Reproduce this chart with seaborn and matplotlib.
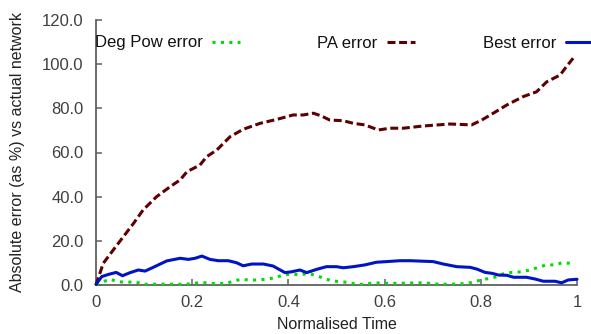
import matplotlib
matplotlib.use("Agg")
import matplotlib.pyplot as plt
import seaborn as sns
import pandas as pd

# ---- data ----
pa_t = [0.0, 0.015, 0.036, 0.057, 0.078, 0.098, 0.126, 0.154, 0.175, 0.189, 0.216, 0.23,
        0.251, 0.279, 0.306, 0.341, 0.376, 0.41, 0.431, 0.452, 0.469, 0.486, 0.514, 0.535,
        0.559, 0.587, 0.611, 0.639, 0.68, 0.736, 0.781, 0.802, 0.826, 0.854, 0.888, 0.916,
        0.937, 0.965, 0.978, 0.992]
pa_err = [0, 9.8, 15.9, 21.9, 27.9, 34, 40, 44.5, 47.6, 51.3, 54.3, 58.1,
          61.1, 67.2, 70.5, 73.2, 75, 77, 77, 77.8, 76.5, 74.7, 74.4, 73.2,
          72.5, 70.2, 71, 71, 72, 72.9, 72.5, 74.7, 77.8, 81.5, 85.3, 87.5,
          92, 95.1, 98.9, 102.7]

best_t = [0.0, 0.012, 0.026, 0.042, 0.055, 0.071, 0.088, 0.102, 0.119, 0.147, 0.175, 0.192,
          0.206, 0.22, 0.237, 0.254, 0.275, 0.292, 0.306, 0.324, 0.348, 0.368, 0.393, 0.407,
          0.424, 0.438, 0.459, 0.479, 0.5, 0.514, 0.535, 0.559, 0.583, 0.611, 0.632, 0.653,
          0.701, 0.722, 0.75, 0.778, 0.792, 0.809, 0.823, 0.837, 0.854, 0.868, 0.895, 0.913,
          0.93, 0.954, 0.968, 0.982, 1.0]
best_err = [0.3, 3.8, 4.8, 5.7, 4.2, 5.6, 6.8, 6.3, 8, 10.9, 12.1, 11.6,
            12.1, 13.1, 11.6, 11, 11, 10.1, 8.7, 9.5, 9.5, 8.6, 5.6, 6,
            6.8, 5.6, 7.1, 8.3, 8.3, 7.8, 8.3, 9.1, 10.3, 10.7, 11, 11,
            10.6, 9.5, 8.3, 8, 7.2, 5.7, 5.3, 4.5, 4.4, 3.5, 3.5, 2.7,
            1.7, 1.7, 1.0, 2.3, 2.6]

deg_t = [0.0, 0.015, 0.029, 0.046, 0.064, 0.081, 0.098, 0.133, 0.168, 0.185, 0.202, 0.22,
         0.237, 0.272, 0.285, 0.303, 0.32, 0.337, 0.355, 0.372, 0.389, 0.407, 0.424, 0.441,
         0.459, 0.474, 0.49, 0.507, 0.524, 0.542, 0.559, 0.576, 0.611, 0.68, 0.715, 0.75,
         0.767, 0.784, 0.8, 0.818, 0.834, 0.852, 0.869, 0.886, 0.902, 0.92, 0.936, 0.953,
         0.97, 0.988]
deg_err = [0.3, 1.5, 2.6, 1.5, 1.2, 1.5, 0.3, 0.4, 0.3, 0.3, 0.7, 1.2,
           0.7, 0.7, 1.8, 2.6, 2.2, 2.3, 2.6, 3.3, 4.5, 5, 4.5, 5.3,
           4.2, 3, 1.9, 1.5, 1.2, 0.3, 0.3, 1, 0.7, 1, 0.3, 0.4,
           0.7, 1.2, 2.3, 3, 3.8, 5.6, 5.7, 6, 6.8, 8, 9.1, 9.1,
           10.1, 9.8]

series_names = ["Deg Pow error", "PA error", "Best error"]
x_ticks = [0, 0.2, 0.4, 0.6, 0.8, 1.0]
x_tick_labels = ["0", "0.2", "0.4", "0.6", "0.8", "1"]
y_ticks = [0, 20, 40, 60, 80, 100, 120]
y_tick_labels = ["0.0", "20.0", "40.0", "60.0", "80.0", "100.0", "120.0"]
x_label = "Normalised Time"
y_label = "Absolute error (as %) vs actual network"

# ---- style ----
sns.set_theme(style="white")
plt.rcParams["font.family"] = ["Liberation Sans", "DejaVu Sans"]

W, H = 591, 334
fig = plt.figure(figsize=(W / 100, H / 100), dpi=100)
ax = fig.add_axes([96 / W, 1 - 285 / H, (577 - 96) / W, (285 - 20) / H])

colors = {"Deg Pow error": "#00dd00", "PA error": "#5e0000", "Best error": "#0014c4"}
dashes = {"Deg Pow error": (1, 1.75), "PA error": (2.6, 1.2), "Best error": None}

frames = [
    ("Deg Pow error", deg_t, deg_err),
    ("PA error", pa_t, pa_err),
    ("Best error", best_t, best_err),
]
handles = {}
for name, t, v in frames:
    df = pd.DataFrame({"t": t, "v": v})
    n_before = len(ax.lines)
    sns.lineplot(data=df, x="t", y="v", ax=ax, color=colors[name], linewidth=2.2,
                 legend=False, clip_on=False, zorder=3)
    line = ax.lines[n_before]
    if dashes[name] is not None:
        line.set_dashes(dashes[name])
    handles[name] = line

ax.set_xlim(0, 1)
ax.set_ylim(0, 120)
ax.set_xticks(x_ticks)
ax.set_xticklabels(x_tick_labels)
ax.set_yticks(y_ticks)
ax.set_yticklabels(y_tick_labels)

spine_col = "#606060"
for s in ["top", "right"]:
    ax.spines[s].set_visible(False)
for s in ["left", "bottom"]:
    ax.spines[s].set_color(spine_col)
    ax.spines[s].set_linewidth(1.3)
ax.tick_params(axis="both", direction="in", length=4.5, width=1.1, color=spine_col,
               labelsize=12, labelcolor="#404040", bottom=True, left=True)
ax.tick_params(axis="y", pad=9)
ax.tick_params(axis="x", pad=7)
ax.set_xlabel(x_label, fontsize=11.5, color="#222222", labelpad=5)
ax.set_ylabel(y_label, fontsize=11.5, color="#222222", labelpad=12)
ax.grid(False)

# gnuplot-style key: right-justified text followed by sample, fixed column pitch
sample_right = {"Deg Pow error": 240, "PA error": 415, "Best error": 594}
for name in series_names:
    leg = ax.legend(handles=[handles[name]], labels=[name], loc="center right",
                    bbox_to_anchor=(sample_right[name] / W, 1 - 43 / H),
                    bbox_transform=fig.transFigure, frameon=False, markerfirst=False,
                    fontsize=12, handlelength=1.7, handletextpad=0.55,
                    borderpad=0, borderaxespad=0)
    for txt in leg.get_texts():
        txt.set_color("#111111")
    ax.add_artist(leg)
ax.legend_ = None

fig.savefig("out.png", dpi=100)
